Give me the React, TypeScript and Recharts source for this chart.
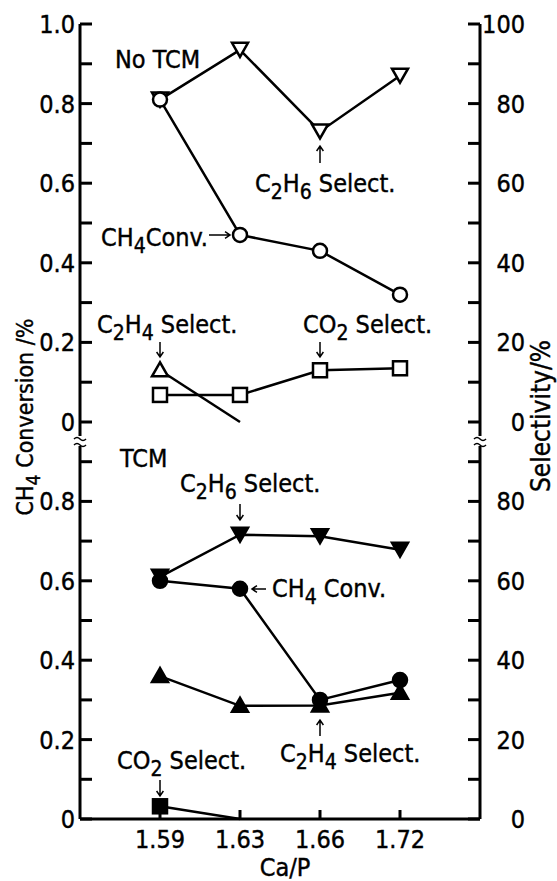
import React from "react";
import { LineChart, Line, XAxis, YAxis } from "recharts";

const caP = ["1.59", "1.63", "1.66", "1.72"];

// upper panel: no TCM
const ch4ConvNoTcm = [0.81, 0.47, 0.43, 0.32];
const c2h6SelNoTcm = [81, 93.5, 73, 87];
const c2h4SelNoTcm = [13, 0, null, null];
const co2SelNoTcm = [6.8, 6.8, 13, 13.5];

// lower panel: TCM
const ch4ConvTcm = [0.6, 0.58, 0.3, 0.35];
const c2h6SelTcm = [61, 71.6, 71.2, 67.8];
const c2h4SelTcm = [36, 28.5, 28.6, 31.8];
const co2SelTcm = [3.2, 0, null, null];

const convTicksTop = [0, 0.1, 0.2, 0.3, 0.4, 0.5, 0.6, 0.7, 0.8, 0.9, 1.0];
const convTicksBottom = [0, 0.1, 0.2, 0.3, 0.4, 0.5, 0.6, 0.7, 0.8, 0.9];
const selTicksTop = [0, 10, 20, 30, 40, 50, 60, 70, 80, 90, 100];
const selTicksBottom = [0, 10, 20, 30, 40, 50, 60, 70, 80, 90];

const topData = caP.map((c, i) => ({
  c,
  conv: ch4ConvNoTcm[i],
  c2h6: c2h6SelNoTcm[i],
  c2h4: c2h4SelNoTcm[i],
  co2: co2SelNoTcm[i],
}));
const bottomData = caP.map((c, i) => ({
  c,
  conv: ch4ConvTcm[i],
  c2h6: c2h6SelTcm[i],
  c2h4: c2h4SelTcm[i],
  co2: co2SelTcm[i],
}));

const FONT = "'Liberation Sans Narrow', 'Arial Narrow', 'DejaVu Sans Condensed', sans-serif";
const FS = 25;
const W = 557;
const H = 881;
// slight outline so the text looks as heavy as the scan
const heavy = { stroke: "#000", strokeWidth: 0.4, fill: "#000" };

const makeDot = (shape: string, filled: boolean) => (p: any) => {
  const { cx, cy, value, index } = p;
  const key = `${shape}-${index}`;
  if (value == null || value === 0 || cx == null || cy == null) return <g key={key} />;
  const fill = filled ? "#000" : "#fff";
  const st = { fill, stroke: "#000", strokeWidth: 2.5 };
  if (shape === "circle") return <circle key={key} cx={cx} cy={cy} r={7} {...st} />;
  if (shape === "square") return <rect key={key} x={cx - 7} y={cy - 7} width={14} height={14} {...st} />;
  if (shape === "down")
    return <polygon key={key} points={`${cx - 8},${cy - 7} ${cx + 8},${cy - 7} ${cx},${cy + 7}`} {...st} />;
  return <polygon key={key} points={`${cx},${cy - 8} ${cx - 8},${cy + 6} ${cx + 8},${cy + 6}`} {...st} />;
};

const LeftTick = (p: any) => {
  const { x, y, payload } = p;
  const v = payload.value;
  const show = Math.round(v * 10) % 2 === 0;
  return (
    <g>
      <line x1={x} x2={x + 12} y1={y} y2={y} stroke="#000" strokeWidth={3} />
      {show && (
        <text x={x - 5} y={y + 9} textAnchor="end" fontSize={FS} fontFamily={FONT} {...heavy}>
          {v === 0 ? "0" : v.toFixed(1)}
        </text>
      )}
    </g>
  );
};

const RightTick = (p: any) => {
  const { x, y, payload } = p;
  const v = payload.value;
  const show = v % 20 === 0;
  return (
    <g>
      <line x1={x} x2={x - 12} y1={y} y2={y} stroke="#000" strokeWidth={3} />
      {show && (
        <text x={x + 45} y={y + 9} textAnchor="end" fontSize={FS} fontFamily={FONT} {...heavy}>
          {v}
        </text>
      )}
    </g>
  );
};

const MidTick = (p: any) => (
  <line x1={p.x} x2={p.x} y1={p.y - 8} y2={p.y + 8} stroke="#000" strokeWidth={3} />
);
const TopTick = (p: any) => (
  <line x1={p.x} x2={p.x} y1={p.y} y2={p.y + 9} stroke="#000" strokeWidth={3} />
);
const BottomTick = (p: any) => (
  <g>
    <line x1={p.x} x2={p.x} y1={p.y} y2={p.y - 9} stroke="#000" strokeWidth={3} />
    <text x={p.x} y={p.y + 29} textAnchor="middle" fontSize={FS} fontFamily={FONT} {...heavy}>
      {p.payload.value}
    </text>
  </g>
);

const axisLine = { stroke: "#000", strokeWidth: 3 };
const lineProps = {
  type: "linear" as const,
  stroke: "#000",
  strokeWidth: 2.5,
  isAnimationActive: false,
  connectNulls: false,
};

// text with subscripts: parts of [text, isSub]
const Chem = ({
  x,
  y,
  parts,
  anchor,
  size,
}: {
  x: number;
  y: number;
  parts: [string, boolean?][];
  anchor?: string;
  size?: number;
}) => {
  const fs = size || FS;
  let sub = false;
  return (
    <text x={x} y={y} fontSize={fs} fontFamily={FONT} textAnchor={anchor || "start"} {...heavy}>
      {parts.map(([t, s], i) => {
        let dy = 0;
        if (s && !sub) dy = 7;
        if (!s && sub) dy = -7;
        sub = !!s;
        return (
          <tspan key={i} dy={dy} fontSize={s ? fs * 0.84 : fs}>
            {t}
          </tspan>
        );
      })}
    </text>
  );
};

const Arrow = ({ x1, y1, x2, y2 }: { x1: number; y1: number; x2: number; y2: number }) => {
  const a = Math.atan2(y2 - y1, x2 - x1);
  const h = 6;
  const p1 = [x2 - h * Math.cos(a - 0.6), y2 - h * Math.sin(a - 0.6)];
  const p2 = [x2 - h * Math.cos(a + 0.6), y2 - h * Math.sin(a + 0.6)];
  return (
    <path
      d={`M${x1},${y1} L${x2},${y2} M${p1[0]},${p1[1]} L${x2},${y2} L${p2[0]},${p2[1]}`}
      stroke="#000"
      strokeWidth={1.5}
      fill="none"
    />
  );
};

const Break = ({ x, y }: { x: number; y: number }) => (
  <g>
    <rect x={x - 6} y={y - 5} width={12} height={10} fill="#fff" />
    <path d={`M${x - 6},${y - 2} q3,-3 6,0 t6,0`} stroke="#000" strokeWidth={1.5} fill="none" />
    <path d={`M${x - 6},${y + 4} q3,-3 6,0 t6,0`} stroke="#000" strokeWidth={1.5} fill="none" />
  </g>
);

const sel = (name: string): [string, boolean?][] => [["C"], ["2", true], ["H"], [name, true], [" Select."]];

export default function App() {
  return (
    <div style={{ position: "absolute", left: 0, top: 0, width: W, height: H, background: "#fff" }}>
      <div style={{ position: "absolute", left: 0, top: 0 }}>
        <LineChart width={W} height={H} data={topData} margin={{ top: 24, right: 0, left: 0, bottom: 459 }}>
          <XAxis
            xAxisId="b"
            dataKey="c"
            height={0}
            padding={{ left: 80, right: 80 }}
            axisLine={axisLine}
            tickLine={false}
            tickSize={0}
            tickMargin={0}
            tick={MidTick}
            interval={0}
          />
          <XAxis
            xAxisId="t"
            dataKey="c"
            orientation="top"
            height={0}
            padding={{ left: 80, right: 80 }}
            axisLine={axisLine}
            tickLine={false}
            tickSize={0}
            tickMargin={0}
            tick={TopTick}
            interval={0}
          />
          <YAxis
            yAxisId="l"
            width={80}
            domain={[0, 1]}
            ticks={convTicksTop}
            interval={0}
            axisLine={axisLine}
            tickLine={false}
            tickSize={0}
            tickMargin={0}
            tick={LeftTick}
          />
          <YAxis
            yAxisId="r"
            orientation="right"
            width={77}
            domain={[0, 100]}
            ticks={selTicksTop}
            interval={0}
            axisLine={axisLine}
            tickLine={false}
            tickSize={0}
            tickMargin={0}
            tick={RightTick}
          />
          <Line {...lineProps} xAxisId="b" yAxisId="r" dataKey="c2h6" dot={makeDot("down", false)} />
          <Line {...lineProps} xAxisId="b" yAxisId="r" dataKey="c2h4" dot={makeDot("up", false)} />
          <Line {...lineProps} xAxisId="b" yAxisId="r" dataKey="co2" dot={makeDot("square", false)} />
          <Line {...lineProps} xAxisId="b" yAxisId="l" dataKey="conv" dot={makeDot("circle", false)} />
        </LineChart>
      </div>
      <div style={{ position: "absolute", left: 0, top: 0 }}>
        <LineChart width={W} height={H} data={bottomData} margin={{ top: 422, right: 0, left: 0, bottom: 0 }}>
          <XAxis
            dataKey="c"
            height={62}
            padding={{ left: 80, right: 80 }}
            axisLine={axisLine}
            tickLine={false}
            tickSize={0}
            tickMargin={0}
            tick={BottomTick}
            interval={0}
          />
          <YAxis
            yAxisId="l"
            width={80}
            domain={[0, 1]}
            ticks={convTicksBottom}
            interval={0}
            axisLine={axisLine}
            tickLine={false}
            tickSize={0}
            tickMargin={0}
            tick={LeftTick}
          />
          <YAxis
            yAxisId="r"
            orientation="right"
            width={77}
            domain={[0, 100]}
            ticks={selTicksBottom}
            interval={0}
            axisLine={axisLine}
            tickLine={false}
            tickSize={0}
            tickMargin={0}
            tick={RightTick}
          />
          <Line {...lineProps} yAxisId="r" dataKey="c2h6" dot={makeDot("down", true)} />
          <Line {...lineProps} yAxisId="r" dataKey="c2h4" dot={makeDot("up", true)} />
          <Line {...lineProps} yAxisId="r" dataKey="co2" dot={makeDot("square", true)} />
          <Line {...lineProps} yAxisId="l" dataKey="conv" dot={makeDot("circle", true)} />
        </LineChart>
      </div>
      <svg width={W} height={H} style={{ position: "absolute", left: 0, top: 0, pointerEvents: "none" }}>
        <Break x={80} y={441} />
        <Break x={480} y={441} />

        {/* upper panel notes */}
        <text x={115} y={68} fontSize={FS} fontFamily={FONT} {...heavy}>No TCM</text>
        <Chem x={255} y={192} parts={sel("6")} />
        <Arrow x1={320} y1={163} x2={320} y2={146} />
        <Chem x={101} y={246} parts={[["CH"], ["4", true], ["Conv."]]} />
        <Arrow x1={209} y1={235} x2={230} y2={235} />
        <Chem x={97} y={333} parts={sel("4")} />
        <Arrow x1={160} y1={342} x2={160} y2={357} />
        <Chem x={303} y={333} parts={[["CO"], ["2", true], [" Select."]]} />
        <Arrow x1={320} y1={342} x2={320} y2={357} />

        {/* lower panel notes */}
        <text x={120} y={467} fontSize={FS} fontFamily={FONT} {...heavy}>TCM</text>
        <Chem x={180} y={492} parts={sel("6")} />
        <Arrow x1={240} y1={504} x2={240} y2={520} />
        <Arrow x1={266} y1={589} x2={252} y2={589} />
        <Chem x={272} y={597} parts={[["CH"], ["4", true], [" Conv."]]} />
        <Chem x={280} y={762} parts={sel("4")} />
        <Arrow x1={320} y1={736} x2={320} y2={720} />
        <Chem x={117} y={769} parts={[["CO"], ["2", true], [" Select."]]} />
        <Arrow x1={160} y1={780} x2={160} y2={796} />

        {/* axis titles */}
        <g transform="translate(33,417) rotate(-90)">
          <Chem x={0} y={0} anchor="middle" size={23} parts={[["CH"], ["4", true], [" Conversion /%"]]} />
        </g>
        <text transform="translate(550,416) rotate(-90)" textAnchor="middle" fontSize={26} fontFamily={FONT} {...heavy}>
          Selectivity/%
        </text>
        <text x={285} y={876} textAnchor="middle" fontSize={FS} fontFamily={FONT} {...heavy}>Ca/P</text>
      </svg>
    </div>
  );
}
